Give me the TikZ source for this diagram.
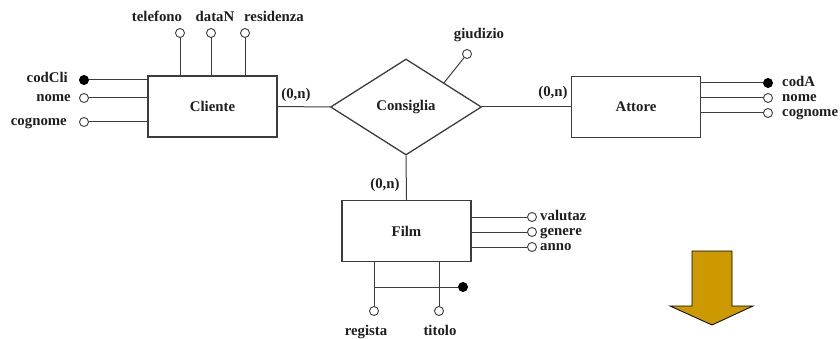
\documentclass[tikz,border=0pt]{standalone}
\usepackage{fontspec}
\setmainfont{Liberation Serif}
\usetikzlibrary{shapes.geometric}
\definecolor{txt}{RGB}{30,30,30}
\definecolor{edge}{RGB}{60,60,60}
\definecolor{gold}{RGB}{204,153,0}
\begin{document}
\begin{tikzpicture}[x=1pt,y=-1pt,
  every node/.style={font=\fontsize{14.8}{17}\selectfont\bfseries, text=txt},
  ent/.style={draw=edge, line width=1.3pt, minimum width=129pt, minimum height=61pt, inner sep=0pt},
  rel/.style={diamond, draw=edge, line width=1.3pt, minimum width=151pt, minimum height=96pt, inner sep=0pt},
  att/.style={circle, draw=edge, fill=white, line width=0.9pt, minimum size=9pt, inner sep=0pt},
  keyatt/.style={att, fill=black, draw=black},
  lab/.style={inner sep=0pt, text height=9.5pt, text depth=2.5pt},
  conn/.style={draw=edge, line width=1pt}]
\useasboundingbox (0,0) rectangle (840,339);

% entities and relationship
\node[ent] (cliente) at (212.5,106.5) {Cliente};
\node[ent] (attore) at (636,107) {Attore};
\node[ent] (film) at (406.5,231) {Film};
\node[rel] (cons) at (406,107) {Consiglia};

% relationship connectors
\draw[conn] (cliente.east) -- (cons.west);
\draw[conn] (cons.east) -- (attore.west);
\draw[conn] (cons.south) -- (film.north);

% cardinalities
\node[lab] (c1) at (296,95) {(0,n)};
\node[lab] (c2) at (553,93) {(0,n)};
\node[lab] (c3) at (385,185) {(0,n)};

% Cliente attributes
\node[att] (tel) at (180,33) {};
\node[att] (datan) at (211,33) {};
\node[att] (res) at (245,33) {};
\node[keyatt] (codcli) at (84,80) {};
\node[att] (nomec) at (84,98) {};
\node[att] (cognc) at (84,122) {};
\draw[conn] (tel) -- (tel |- cliente.north);
\draw[conn] (datan) -- (datan |- cliente.north);
\draw[conn] (res) -- (res |- cliente.north);
\draw[conn] (codcli) -- (codcli -| cliente.west);
\draw[conn] (nomec) -- (nomec -| cliente.west);
\draw[conn] (cognc) -- (cognc -| cliente.west);
\node[lab] (ltel) at (157,18) {telefono};
\node[lab] (ldatan) at (215,18) {dataN};
\node[lab] (lres) at (274,18) {residenza};
\node[lab, anchor=east] (lcodcli) at (68,79) {codCli};
\node[lab, anchor=east] (lnomec) at (71,98) {nome};
\node[lab, anchor=east] (lcognc) at (67,122) {cognome};

% Consiglia attribute
\node[att] (giud) at (467,54) {};
\draw[conn] (giud) -- (cons.north east);
\node[lab] (lgiud) at (479,35) {giudizio};

% Attore attributes
\node[keyatt] (coda) at (768,83) {};
\node[att] (nomea) at (768,98) {};
\node[att] (cogna) at (768,113) {};
\draw[conn] (coda) -- (coda -| attore.east);
\draw[conn] (nomea) -- (nomea -| attore.east);
\draw[conn] (cogna) -- (cogna -| attore.east);
\node[lab, anchor=west] (lcoda) at (782,83) {codA};
\node[lab, anchor=west] (lnomea) at (782,98) {nome};
\node[lab, anchor=west] (lcogna) at (782,113) {cognome};

% Film attributes
\node[att] (val) at (532,217) {};
\node[att] (gen) at (532,232) {};
\node[att] (anno) at (532,247) {};
\draw[conn] (val) -- (val -| film.east);
\draw[conn] (gen) -- (gen -| film.east);
\draw[conn] (anno) -- (anno -| film.east);
\node[lab, anchor=west] (lval) at (540,216.5) {valutaz};
\node[lab, anchor=west] (lgen) at (540,231.5) {genere};
\node[lab, anchor=west] (lanno) at (540,246.5) {anno};

\node[att] (reg) at (374,311) {};
\node[att] (tit) at (439,311) {};
\node[keyatt] (fkey) at (463,287) {};
\coordinate (jn) at (374,287);
\draw[conn] (reg) -- (reg |- film.south);
\draw[conn] (tit) -- (tit |- film.south);
\draw[conn] (jn) -- (fkey);
\node[lab] (lreg) at (366,332) {regista};
\node[lab] (ltit) at (440,332) {titolo};

% big arrow
\draw[fill=gold, draw=black, line width=0.8pt, line join=miter]
  (692,251) -- (732,251) -- (732,306) -- (753,306) -- (712,325)
  -- (670,306) -- (692,306) -- cycle;
\end{tikzpicture}
\end{document}
